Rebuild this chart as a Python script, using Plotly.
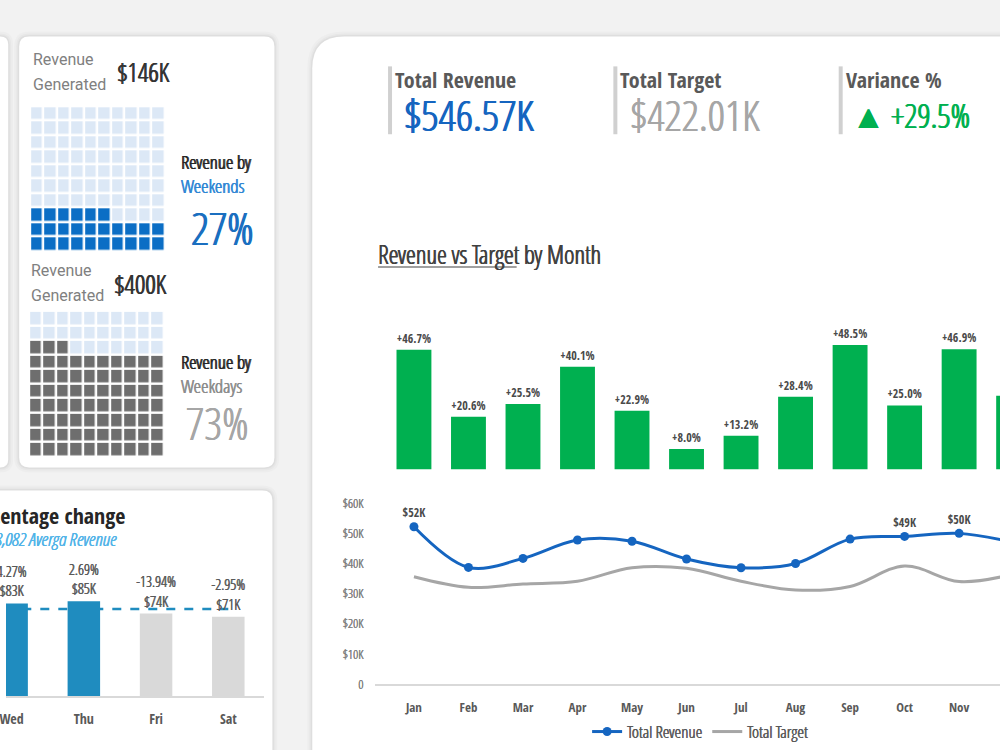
import plotly.graph_objects as go

W, H = 1000, 750
# small correction for the page offset/scale seen in the rendered screenshot
OX, SX = 2.8, 0.997
OY, SY = 5.5, 0.982


def px(x):
    return ((x - OX) / SX) / W


def py(y):
    return 1 - ((y - OY) / SY) / H


# ---------------- data ----------------
months = ["Jan", "Feb", "Mar", "Apr", "May", "Jun", "Jul", "Aug", "Sep", "Oct", "Nov", "Dec"]
revenue_k = [52.2, 38.7, 41.7, 47.8, 47.4, 41.5, 38.6, 40.0, 48.1, 49.0, 50.0, 47.0]
target_k = [35.6, 32.1, 33.2, 34.1, 38.6, 38.4, 34.1, 31.2, 32.4, 39.2, 34.0, 36.5]
variance_pct = [46.7, 20.6, 25.5, 40.1, 22.9, 8.0, 13.2, 28.4, 48.5, 25.0, 46.9, 28.8]
revenue_labels = ["$52K", "", "", "", "", "", "", "", "", "$49K", "$50K", ""]
y_ticks_k = [0, 10, 20, 30, 40, 50, 60]
y_tick_labels = ["0", "$10K", "$20K", "$30K", "$40K", "$50K", "$60K"]

days = ["Wed", "Thu", "Fri", "Sat"]
day_revenue_k = [83, 85, 74, 71]
day_change = ["4.27%", "2.69%", "-13.94%", "-2.95%"]
avg_day_revenue_k = 78.082

weekend_cells = 26
weekday_cells = 73
weekend_revenue = "$146K"
weekday_revenue = "$400K"
weekend_share = "27%"
weekday_share = "73%"

total_revenue = "$546.57K"
total_target = "$422.01K"
variance_total = "+29.5%"

BOLD = "Open Sans Condensed, Roboto, sans-serif"
LIGHTF = "Open Sans Condensed Light, Roboto, sans-serif"
ROBOTO = "Roboto, Liberation Sans, sans-serif"

BLUE = "#1565C0"
GREEN = "#00B050"
LIGHT = "#DCE8F6"
WAFFLE_BLUE = "#0B6EC5"
WAFFLE_GREY = "#6E6E6E"
TEAL = "#1F8CBF"


def thick(color, w=0.5):
    return f"{w}px 0 0 {color}, -{w / 2}px 0 0 {color}"


fig = go.Figure()


# ---------------- waffles ----------------
def waffle_z(n):
    z = []
    for r in range(10):
        row = []
        for c in range(10):
            row.append(1 if r * 10 + c < n else 0)
        z.append(row)
    return z


for i, (cells, col) in enumerate([(weekend_cells, WAFFLE_BLUE), (weekday_cells, WAFFLE_GREY)]):
    ax = "" if i == 0 else "2"
    fig.add_trace(go.Heatmap(
        z=waffle_z(cells), x=list(range(10)), y=list(range(10)),
        zmin=0, zmax=1, showscale=False, xgap=2.5, ygap=2.5,
        colorscale=[[0, LIGHT], [0.5, LIGHT], [0.5, col], [1, col]],
        hoverinfo="skip", xaxis="x" + ax, yaxis="y" + ax,
    ))

# ---------------- weekday bars ----------------
bar_cols = [TEAL if v >= avg_day_revenue_k else "#D9D9D9" for v in day_revenue_k]
fig.add_trace(go.Bar(
    x=days, y=day_revenue_k, marker=dict(color=bar_cols, line=dict(width=0)),
    width=0.45,
    text=[f"{c}<br>${v}K" for c, v in zip(day_change, day_revenue_k)],
    textposition="outside", cliponaxis=False, constraintext="none",
    textfont=dict(family=LIGHTF, size=15, color="#595959", shadow=thick("#595959", 0.4)),
    xaxis="x3", yaxis="y3", showlegend=False, hoverinfo="skip",
))

# ---------------- monthly variance bars ----------------
fig.add_trace(go.Bar(
    x=months, y=variance_pct, marker=dict(color=GREEN, line=dict(width=0)),
    width=0.64,
    text=[f"+{v:.1f}%" for v in variance_pct],
    textposition="outside", cliponaxis=False, constraintext="none",
    textfont=dict(family=BOLD, size=12, color="#4A4A4A"),
    xaxis="x4", yaxis="y4", showlegend=False, hoverinfo="skip",
))

# ---------------- revenue vs target lines ----------------
fig.add_trace(go.Scatter(
    x=months, y=target_k, mode="lines", name="Total Target", legendrank=2,
    line=dict(color="#A6A6A6", width=3, shape="spline", smoothing=1.0),
    xaxis="x5", yaxis="y5", hoverinfo="skip",
))
fig.add_trace(go.Scatter(
    x=months, y=revenue_k, mode="lines+markers+text", name="Total Revenue", legendrank=1,
    line=dict(color=BLUE, width=3, shape="spline", smoothing=1.0),
    marker=dict(size=9, color=BLUE),
    text=revenue_labels, textposition="top center",
    textfont=dict(family=BOLD, size=12, color="#4A4A4A"),
    cliponaxis=False, xaxis="x5", yaxis="y5", hoverinfo="skip",
))


# ---------------- cards ----------------
def rrect(x0, y0, x1, y1, r):
    X, Y = px, py
    return (f"M {X(x0 + r)},{Y(y0)} L {X(x1 - r)},{Y(y0)} Q {X(x1)},{Y(y0)} {X(x1)},{Y(y0 + r)} "
            f"L {X(x1)},{Y(y1 - r)} Q {X(x1)},{Y(y1)} {X(x1 - r)},{Y(y1)} "
            f"L {X(x0 + r)},{Y(y1)} Q {X(x0)},{Y(y1)} {X(x0)},{Y(y1 - r)} "
            f"L {X(x0)},{Y(y0 + r)} Q {X(x0)},{Y(y0)} {X(x0 + r)},{Y(y0)} Z")


shapes = []
cards = [(-20, 38, 5, 470, 8), (16, 38, 272, 470, 10), (-20, 493, 270, 790, 10), (310, 38, 1040, 790, 32)]
for (x0, y0, x1, y1, r) in cards:
    for e, a in [(5, 0.018), (3, 0.025), (1.5, 0.035)]:
        shapes.append(dict(type="path", path=rrect(x0 - e, y0 - e, x1 + e, y1 + e, r + e),
                           xref="paper", yref="paper", fillcolor=f"rgba(0,0,0,{a})",
                           line=dict(width=0), layer="below"))
for (x0, y0, x1, y1, r) in cards:
    shapes.append(dict(type="path", path=rrect(x0, y0, x1, y1, r), xref="paper", yref="paper",
                       fillcolor="white", line=dict(width=0), layer="below"))

# KPI separators
for xs in [386, 612, 838]:
    shapes.append(dict(type="rect", xref="paper", yref="paper", x0=px(xs), x1=px(xs + 4),
                       y0=py(136), y1=py(68), fillcolor="#D0D0D0", line=dict(width=0)))
# title underline
shapes.append(dict(type="line", xref="paper", yref="paper", x0=px(376), x1=px(515),
                   y0=py(269), y1=py(269), line=dict(color="#A0A0A0", width=2)))
# average dashed line (behind bars)
shapes.append(dict(type="line", xref="x3", yref="y3", x0=-0.6, x1=3,
                   y0=avg_day_revenue_k, y1=avg_day_revenue_k,
                   line=dict(color=TEAL, width=2.5, dash="dash"), layer="below"))

# ---------------- annotations ----------------
anns = []


def ann(text, x, y, size, color, family=LIGHTF, xanchor="left", style="normal", shadow=None):
    font = dict(family=family, size=size, color=color, style=style)
    if shadow:
        font["shadow"] = shadow
    anns.append(dict(text=text, x=px(x), y=py(y), xref="paper", yref="paper", xanchor=xanchor,
                     yanchor="middle", showarrow=False, font=font))


# waffle card texts
ann("Revenue", 28, 61, 16, "#808080", family=ROBOTO)
ann("Generated", 28, 86, 16, "#808080", family=ROBOTO)
ann(weekend_revenue, 112, 74, 26, "#333333", shadow=thick("#333333", 0.7))
ann("Revenue by", 176, 164, 19, "#262626", shadow=thick("#262626", 0.7))
ann("Weekends", 176, 188, 19, "#2E86D4", shadow=thick("#2E86D4", 0.6))
ann(weekend_share, 186, 229, 45, "#1A6FC0", shadow=thick("#1A6FC0", 0.8))

ann("Revenue", 26, 273, 16, "#808080", family=ROBOTO)
ann("Generated", 26, 298, 16, "#808080", family=ROBOTO)
ann(weekday_revenue, 109, 286, 26, "#333333", shadow=thick("#333333", 0.7))
ann("Revenue by", 176, 364, 19, "#262626", shadow=thick("#262626", 0.7))
ann("Weekdays", 176, 388, 19, "#8C8C8C", shadow=thick("#8C8C8C", 0.5))
ann(weekday_share, 181, 425, 45, "#A6A6A6", shadow=thick("#A6A6A6", 0.5))

# bottom-left texts
ann("Percentage change", 124, 518, 22, "#262626", family=BOLD, xanchor="right")
ann(f"${avg_day_revenue_k * 1000:,.0f} Averga Revenue", 116, 542, 19, "#4FB3E8",
    xanchor="right", style="italic", shadow=thick("#4FB3E8", 0.4))

# KPI header
ann("Total Revenue", 391, 81, 22, "#595959", family=BOLD)
ann(total_revenue, 400, 116, 43, BLUE, shadow=thick(BLUE, 0.9))
ann("Total Target", 617, 81, 22, "#595959", family=BOLD)
ann(total_target, 627, 116, 43, "#A6A6A6", shadow=thick("#A6A6A6", 0.6))
ann("Variance %", 843, 81, 22, "#595959", family=BOLD)
ann("▲ " + variance_total, 849, 117, 33, GREEN, shadow=thick(GREEN, 0.8))

ann("Revenue vs Target by Month", 374, 256, 25, "#404040", shadow=thick("#404040", 0.6))

# ---------------- layout ----------------
line_range = [-0.713, 10.75]

fig.update_layout(
    width=W, height=H, margin=dict(l=0, r=0, t=0, b=0),
    paper_bgcolor="#F2F2F2", plot_bgcolor="rgba(0,0,0,0)",
    shapes=shapes, annotations=anns,
    showlegend=True,
    legend=dict(orientation="h", x=px(699), y=py(735), xanchor="center", yanchor="middle",
                font=dict(family=LIGHTF, size=17, color="#595959", shadow=thick("#595959", 0.4)),
                bgcolor="rgba(0,0,0,0)", itemwidth=30),
    xaxis=dict(domain=[px(27), px(162)], range=[-0.5, 9.5], visible=False, anchor="y"),
    yaxis=dict(domain=[py(253), py(108)], range=[-0.5, 9.5], visible=False, anchor="x"),
    xaxis2=dict(domain=[px(26), px(161)], range=[-0.5, 9.5], visible=False, anchor="y2"),
    yaxis2=dict(domain=[py(459), py(313)], range=[-0.5, 9.5], visible=False, anchor="x2"),
    xaxis3=dict(domain=[0, px(262)], range=[-0.04 - OX / 74, 3.5], type="category", anchor="y3",
                showline=True, linecolor="#D9D9D9", linewidth=1.5, showgrid=False,
                ticks="outside", ticklen=9, tickcolor="rgba(0,0,0,0)",
                tickfont=dict(family=BOLD, size=14, color="#595959")),
    yaxis3=dict(domain=[py(699), py(560)], range=[0, 124.3], visible=False, anchor="x3"),
    xaxis4=dict(domain=[px(373), 1], range=line_range, type="category", visible=False, anchor="y4"),
    yaxis4=dict(domain=[py(472), py(320)], range=[0, 59.1], visible=False, anchor="x4"),
    xaxis5=dict(domain=[px(373), 1], range=line_range, type="category", anchor="y5",
                showline=True, linecolor="#D9D9D9", linewidth=1.5, showgrid=False,
                ticks="outside", ticklen=11, tickcolor="rgba(0,0,0,0)",
                tickfont=dict(family=BOLD, size=13, color="#595959")),
    yaxis5=dict(domain=[py(687), py(500)], range=[0, 61.9], showgrid=False, zeroline=False,
                anchor="x5", tickvals=y_ticks_k, ticktext=y_tick_labels,
                ticks="outside", ticklen=8, tickcolor="rgba(0,0,0,0)",
                tickfont=dict(family=LIGHTF, size=13, color="#7F7F7F",
                              shadow=thick("#7F7F7F", 0.3))),
)

fig.write_html("out.html")
